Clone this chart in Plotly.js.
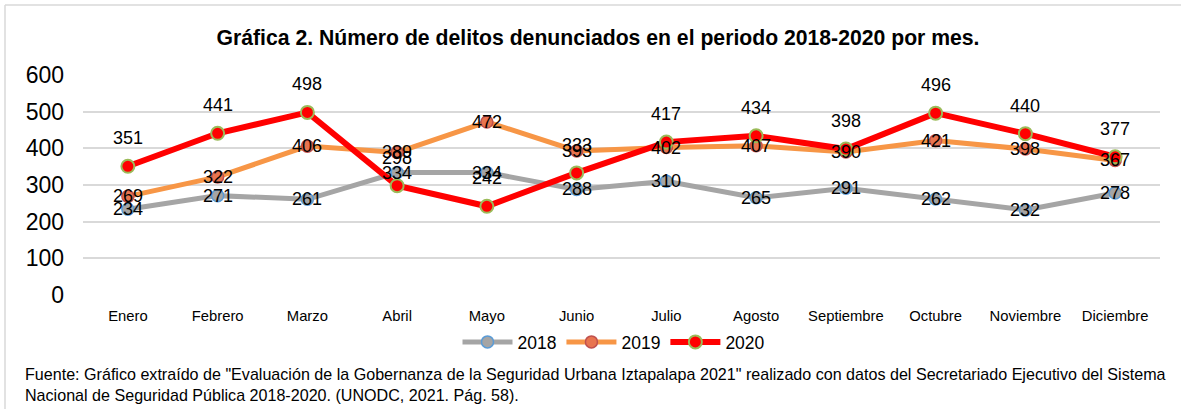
<!DOCTYPE html>
<html>
<head>
<meta charset="utf-8">
<script src="https://cdn.plot.ly/plotly-3.0.1.min.js"></script>
<style>
  html, body { margin: 0; padding: 0; background: #fff; }
  #chart { width: 1181px; height: 409px; }
</style>
</head>
<body>
<div id="chart"></div>
<script>
const months = ["Enero", "Febrero", "Marzo", "Abril", "Mayo", "Junio", "Julio", "Agosto", "Septiembre", "Octubre", "Noviembre", "Diciembre"];
const v2018 = [234, 271, 261, 334, 334, 288, 310, 265, 291, 262, 232, 278];
const v2019 = [269, 322, 406, 389, 472, 393, 402, 407, 390, 421, 398, 367];
const v2020 = [351, 441, 498, 298, 242, 333, 417, 434, 398, 496, 440, 377];
const seriesNames = ["2018", "2019", "2020"];
const yTickVals = [0, 100, 200, 300, 400, 500, 600];

const W = 1181, H = 409;
const M = { l: 83, r: 21, t: 75, b: 114 };
const pw = W - M.l - M.r, ph = H - M.t - M.b;
const px2x = p => (p - M.l) / pw;
const px2y = p => (H - M.b - p) / ph;

const FONT = "Liberation Sans, Arial, sans-serif";

const styles = [
  { line: { color: "#A5A5A5", width: 5 }, marker: { color: "#A5A5A5", size: 12, line: { color: "#5B9BD5", width: 1.5 } } },
  { line: { color: "#F79646", width: 5 }, marker: { color: "#E8744F", size: 12, line: { color: "#C0504D", width: 1.5 } } },
  { line: { color: "#FF0000", width: 6 }, marker: { color: "#FF0000", size: 13, line: { color: "#9BBB59", width: 2 } } }
];
const allVals = [v2018, v2019, v2020];

const traces = allVals.map((vals, i) => ({
  type: "scatter",
  mode: "lines+markers",
  name: seriesNames[i],
  x: months,
  y: vals,
  line: styles[i].line,
  marker: Object.assign({ symbol: "circle" }, styles[i].marker),
  hoverinfo: "skip"
}));

const labelShift = [0, 0, 28];
const annotations = [];
allVals.forEach((vals, i) => {
  vals.forEach((v, j) => {
    annotations.push({
      x: months[j], y: v, xref: "x", yref: "y",
      text: String(v), showarrow: false,
      yshift: labelShift[i], xanchor: "center", yanchor: "middle",
      font: { family: FONT, size: 18, color: "#000" }
    });
  });
});

annotations.push({
  xref: "paper", yref: "paper",
  x: px2x(23), y: px2y(384.5),
  xanchor: "left", yanchor: "middle", align: "left",
  showarrow: false,
  text: 'Fuente: Gráfico extraído de "Evaluación de la Gobernanza de la Seguridad Urbana Iztapalapa 2021" realizado con datos del Secretariado Ejecutivo del Sistema<br>Nacional de Seguridad Pública 2018-2020. (UNODC, 2021. Pág. 58).',
  font: { family: FONT, size: 16.1, color: "#000" }
});

const layout = {
  width: W, height: H,
  margin: M,
  paper_bgcolor: "#fff", plot_bgcolor: "#fff",
  font: { family: FONT, color: "#000" },
  title: {
    text: "<b>Gráfica 2. Número de delitos denunciados en el periodo 2018-2020 por mes.</b>",
    font: { family: FONT, size: 21.2, color: "#000" },
    x: 598 / W, xanchor: "center", xref: "container",
    y: 1 - 38 / H, yanchor: "middle", yref: "container"
  },
  xaxis: {
    type: "category",
    range: [-0.5, months.length - 0.5],
    showgrid: false, zeroline: false, showline: false,
    ticks: "", ticklabelstandoff: 10,
    tickfont: { family: FONT, size: 14.8, color: "#000" },
    fixedrange: true
  },
  yaxis: {
    range: [0, 600],
    tickvals: yTickVals,
    showgrid: true, gridcolor: "#D9D9D9", gridwidth: 2,
    zeroline: false, showline: false,
    ticks: "", ticklabelstandoff: 18,
    tickfont: { family: FONT, size: 23, color: "#000" },
    fixedrange: true
  },
  showlegend: true,
  legend: {
    orientation: "h",
    x: px2x(614), xanchor: "center",
    y: px2y(342), yanchor: "middle",
    font: { family: FONT, size: 17.5, color: "#000" },
    itemwidth: 50,
    traceorder: "normal"
  },
  annotations: annotations,
  shapes: [
    { type: "line", xref: "paper", yref: "paper", x0: px2x(5), x1: px2x(5), y0: px2y(5), y1: px2y(420), line: { color: "#D9D9D9", width: 1.5 } },
    { type: "line", xref: "paper", yref: "paper", x0: px2x(5), x1: px2x(1190), y0: px2y(5), y1: px2y(5), line: { color: "#D9D9D9", width: 1.5 } }
  ]
};

Plotly.newPlot("chart", traces, layout, { displayModeBar: false, staticPlot: true });
</script>
</body>
</html>
